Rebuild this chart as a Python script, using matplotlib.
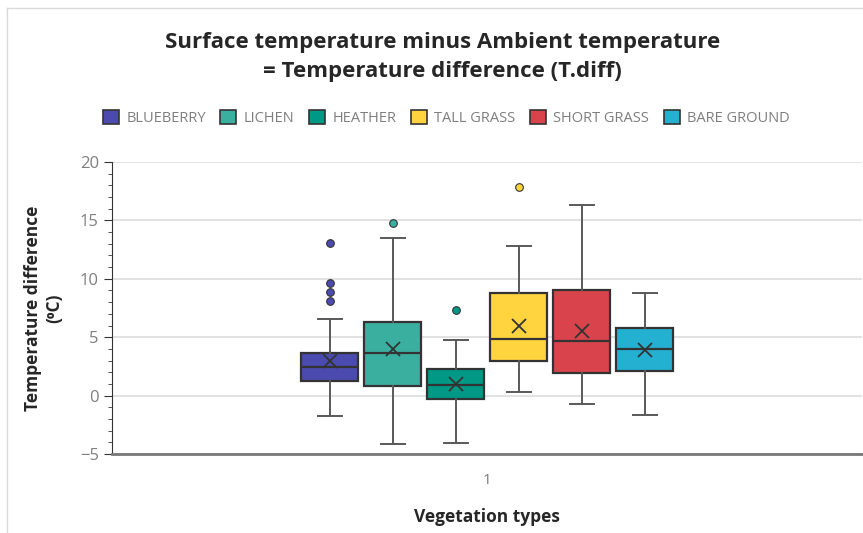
import matplotlib.pyplot as plt
from matplotlib.patches import Patch
from matplotlib.lines import Line2D
from matplotlib.ticker import MultipleLocator

plt.rcParams['font.family'] = ['Open Sans', 'DejaVu Sans']

categories = ["BLUEBERRY", "LICHEN", "HEATHER", "TALL GRASS", "SHORT GRASS", "BARE GROUND"]
colors = ["#4B4BAF", "#3BAF9F", "#009985", "#FFD43E", "#D9434B", "#24B0D1"]

# five-number summaries per vegetation type
whisker_low = [-1.75, -4.15, -4.05, 0.28, -0.75, -1.65]
q1 = [1.25, 0.82, -0.32, 2.96, 1.93, 2.13]
median = [2.42, 3.65, 0.94, 4.82, 4.65, 3.96]
q3 = [3.65, 6.33, 2.30, 8.76, 9.00, 5.81]
whisker_high = [6.6, 13.5, 4.79, 12.8, 16.35, 8.78]
means = [2.96, 4.0, 1.0, 5.96, 5.53, 3.9]
outliers = [[13.1, 9.6, 8.9, 8.1], [14.75], [7.3], [17.86], [], []]

fig = plt.figure(figsize=(8.63, 5.33), dpi=100)
ax = fig.add_axes([112 / 863, 1 - 454 / 533, 750 / 863, 292 / 533])

stats = []
for i, name in enumerate(categories):
    stats.append(dict(label=name, whislo=whisker_low[i], q1=q1[i], med=median[i],
                      q3=q3[i], whishi=whisker_high[i], mean=means[i], fliers=outliers[i]))

spacing = 0.084
positions = [0.5 + (i - 2.5) * spacing for i in range(len(categories))]

edge = "#333333"
bp = ax.bxp(stats, positions=positions, widths=0.076, patch_artist=True,
            showmeans=True, manage_ticks=False,
            boxprops=dict(edgecolor=edge, linewidth=1.6),
            medianprops=dict(color=edge, linewidth=1.6),
            whiskerprops=dict(color="#595959", linewidth=1.4),
            capprops=dict(color="#595959", linewidth=1.4),
            meanprops=dict(marker="x", markeredgecolor=edge, markersize=10, markeredgewidth=1.3))
for box, c in zip(bp["boxes"], colors):
    box.set_facecolor(c)
for cap in bp["caps"]:
    x = cap.get_xdata()
    mid = (x[0] + x[1]) / 2
    cap.set_xdata([mid - 0.016, mid + 0.016])
for fl, c in zip(bp["fliers"], colors):
    fl.set(marker="o", markerfacecolor=c, markeredgecolor=edge, markersize=5.5, markeredgewidth=0.8)

ax.set_xlim(0, 1)
ax.set_ylim(-5, 20)
ax.yaxis.set_major_locator(MultipleLocator(5))
ax.yaxis.set_minor_locator(MultipleLocator(1))
ax.set_xticks([0.5])
ax.set_xticklabels(["1"])
ax.grid(axis="y", color="#DDDDDD", linewidth=1.2)
ax.set_axisbelow(True)
for s in ["top", "right"]:
    ax.spines[s].set_visible(False)
ax.spines["left"].set_color("#333333")
ax.spines["bottom"].set_color("#777777")
ax.spines["bottom"].set_linewidth(2)
ax.tick_params(axis="y", which="major", length=6, color="#333333", labelsize=12, labelcolor="#7F7F7F")
ax.tick_params(axis="y", which="minor", length=3, color="#333333")
ax.tick_params(axis="x", length=0, labelsize=11, labelcolor="#7F7F7F", pad=14)

ax.set_ylabel("Temperature difference\n(\u2070C)", fontsize=12.5, fontweight="bold", color="#262626", labelpad=12)
ax.set_xlabel("Vegetation types", fontsize=12.5, fontweight="bold", color="#262626", labelpad=14)

fig.text(0.513, 1 - 57 / 533, "Surface temperature minus Ambient temperature\n= Temperature difference (T.diff)",
         ha="center", va="center", fontsize=16, fontweight="bold", color="#262626", linespacing=1.45)

handles = [Patch(facecolor=c, edgecolor=edge, linewidth=1.2) for c in colors]
fig.legend(handles, categories, loc="center", bbox_to_anchor=(0.517, 1 - 118 / 533), ncol=6,
           frameon=False, fontsize=10.5, handlelength=1.1, handleheight=1.1, handletextpad=0.5,
           columnspacing=1.0, labelcolor="#7F7F7F")

# chart area border
fig.add_artist(Line2D([7 / 863, 7 / 863], [0, 1 - 8 / 533], transform=fig.transFigure, color="#D9D9D9", linewidth=1))
fig.add_artist(Line2D([7 / 863, 1], [1 - 8 / 533, 1 - 8 / 533], transform=fig.transFigure, color="#D9D9D9", linewidth=1))

fig.savefig("out.png", dpi=100)
